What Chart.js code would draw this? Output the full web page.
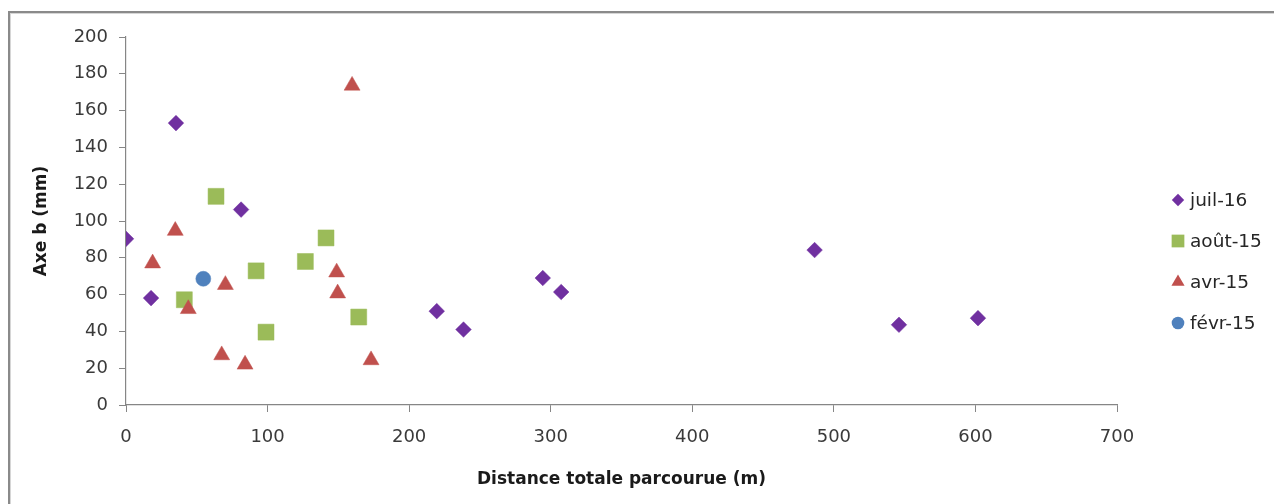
<!DOCTYPE html>
<html>
<head>
<meta charset="utf-8">
<script src="https://cdn.jsdelivr.net/npm/chart.js@4/dist/chart.umd.min.js"></script>
<style>
  html, body { margin: 0; padding: 0; background: #fff; overflow: hidden; }
  #wrap { position: relative; width: 1274px; height: 504px; }
  #frame { position: absolute; left: 8px; top: 11px; width: 1400px; height: 600px;
           border-top: 2px solid #8a8a8a; border-left: 2px solid #8a8a8a;
           box-shadow: inset 1px 1px 0 #d6d6d6; pointer-events: none; }
  canvas { position: absolute; left: 0; top: 0; }
</style>
</head>
<body>
<div id="wrap">
  <canvas id="chart" width="1274" height="504"></canvas>
  <div id="frame"></div>
</div>
<script>
// series
const seriesNames = ['juil-16', 'août-15', 'avr-15', 'févr-15'];

const juilX = [0, 17.7, 35.3, 81.3, 219.5, 238.4, 294.4, 307.4, 486.4, 546, 601.8];
const juilY = [90.3, 58.1, 153.2, 106.2, 51, 41, 69, 61.4, 84.2, 43.6, 47.2];

const aoutX = [63.6, 141.3, 41.2, 91.9, 98.9, 126.7, 164.4];
const aoutY = [113.4, 90.8, 57.2, 72.9, 39.6, 78, 47.8];

const avrX = [159.7, 34.8, 18.8, 44, 70.2, 67.6, 84.1, 148.8, 149.5, 173.1];
const avrY = [173.6, 94.7, 77, 52.2, 65.3, 27.1, 22, 72.1, 60.7, 24.4];

const fevrX = [54.6];
const fevrY = [68.6];

const xTitle = 'Distance totale parcourue (m)';
const yTitle = 'Axe b (mm)';

const COLORS = ['#7030A0', '#9BBB59', '#C0504D', '#4F81BD'];
const STYLES = ['rectRot', 'rect', 'triangle', 'circle'];
const RADII = [7.8, 11.3, 9.2, 7.5];
const LEGEND_RADII = [6.2, 9, 7.6, 6.3];

function pts(xs, ys) { return xs.map((x, i) => ({ x: x, y: ys[i] })); }

const AXIS = '#868686';
const TICK_FONT = { family: 'DejaVu Sans', size: 18 };
const TITLE_FONT = { family: 'DejaVu Sans', size: 17, weight: 'bold' };

// legend drawn at the right, like the original
const sideLegend = {
  id: 'sideLegend',
  afterDraw(chart) {
    const ctx = chart.ctx;
    ctx.save();
    chart.data.datasets.forEach((ds, i) => {
      const y = 200 + i * 41;
      ctx.fillStyle = ds.backgroundColor;
      ctx.strokeStyle = ds.backgroundColor;
      Chart.helpers.drawPoint(ctx, { pointStyle: ds.pointStyle, radius: LEGEND_RADII[i], rotation: 0, borderWidth: 0 }, 1178, y);
      ctx.fillStyle = '#262626';
      ctx.font = '18.5px "DejaVu Sans"';
      ctx.textBaseline = 'middle';
      ctx.textAlign = 'left';
      ctx.fillText(ds.label, 1190, y + 1);
    });
    ctx.restore();
  }
};

// later series sit on top, as in the original
const datasets = [
  pts(juilX, juilY), pts(aoutX, aoutY), pts(avrX, avrY), pts(fevrX, fevrY)
].map((d, i) => ({
  label: seriesNames[i],
  data: d,
  order: 3 - i,
  pointStyle: STYLES[i],
  pointRadius: RADII[i],
  pointHoverRadius: RADII[i],
  backgroundColor: COLORS[i],
  borderColor: COLORS[i],
  borderWidth: 0.5
}));

new Chart(document.getElementById('chart'), {
  type: 'scatter',
  data: { datasets: datasets },
  options: {
    responsive: false,
    devicePixelRatio: 1,
    animation: false,
    layout: { padding: { left: 0, right: 157, top: 37, bottom: 0 } },
    plugins: { legend: { display: false }, tooltip: { enabled: false } },
    scales: {
      x: {
        type: 'linear', min: 0, max: 700,
        afterFit: s => { s.height = 99; },
        ticks: { stepSize: 100, color: '#3a3a3a', font: TICK_FONT, padding: 15 },
        grid: { drawOnChartArea: false, drawTicks: true, tickLength: 7, color: AXIS },
        border: { color: AXIS, width: 1.2 },
        title: { display: true, text: xTitle, color: '#1a1a1a', font: TITLE_FONT, padding: { bottom: 14 } }
      },
      y: {
        type: 'linear', min: 0, max: 200,
        afterFit: s => { s.width = 126; },
        ticks: { stepSize: 20, color: '#3a3a3a', font: TICK_FONT, padding: 11 },
        grid: { drawOnChartArea: false, drawTicks: true, tickLength: 7, color: AXIS },
        border: { color: AXIS, width: 1.2 },
        title: { display: true, text: yTitle, color: '#1a1a1a', font: TITLE_FONT, padding: { top: 31 } }
      }
    }
  },
  plugins: [sideLegend]
});
</script>
</body>
</html>
